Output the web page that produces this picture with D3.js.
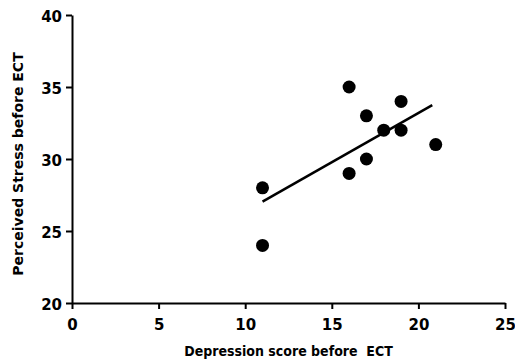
<!DOCTYPE html>
<html>
<head>
<meta charset="utf-8">
<script src="https://cdn.jsdelivr.net/npm/d3@7"></script>
<style>
  body { margin: 0; background: #fff; }
  text { font-family: "DejaVu Sans", sans-serif; font-weight: 700; fill: #000; }
</style>
</head>
<body>
<svg id="chart"></svg>
<script>
const width = 515;
const height = 363;

// data
const depression = [11, 11, 16, 16, 17, 17, 18, 19, 19, 21];
const stress = [28, 24, 35, 29, 33, 30, 32, 34, 32, 31];
const xTicks = [0, 5, 10, 15, 20, 25];
const yTicks = [20, 25, 30, 35, 40];

const margin = {top: 15, right: 10, bottom: 60, left: 72};

let svg = d3.select('#chart')
  .attr('width', width)
  .attr('height', height);

let x = d3.scaleLinear().domain([0, 25]).range([margin.left, width - margin.right]);
let y = d3.scaleLinear().domain([20, 40]).range([height - margin.bottom, margin.top]);

// least squares fit
const mx = d3.mean(depression);
const my = d3.mean(stress);
let sxy = 0, sxx = 0;
for (let i = 0; i < depression.length; i++) {
  sxy += (depression[i] - mx) * (stress[i] - my);
  sxx += (depression[i] - mx) * (depression[i] - mx);
}
const slope = sxy / sxx;
const intercept = my - slope * mx;
const xExt = d3.extent(depression);
const xEnd = xExt[1] - 0.2;

let xAxis = svg.append('g')
  .attr('transform', `translate(0,${y(20)})`)
  .call(d3.axisBottom(x).tickValues(xTicks).tickSize(6).tickPadding(10).tickSizeOuter(0));

let yAxis = svg.append('g')
  .attr('transform', `translate(${x(0)},0)`)
  .call(d3.axisLeft(y).tickValues(yTicks).tickSize(6).tickPadding(4).tickSizeOuter(0));

[xAxis, yAxis].forEach(function (g) {
  g.attr('font-family', null).attr('font-size', null);
  g.selectAll('path, line').attr('stroke', '#000').attr('stroke-width', 2);
  g.selectAll('text').style('font-size', '15px').attr('fill', '#000');
});
yAxis.selectAll('text').attr('dy', '0.45em');

svg.append('line')
  .attr('x1', x(xExt[0]))
  .attr('y1', y(intercept + slope * xExt[0]))
  .attr('x2', x(xEnd))
  .attr('y2', y(intercept + slope * xEnd))
  .attr('stroke', '#000')
  .attr('stroke-width', 2.5);

svg.selectAll('circle.pt')
  .data(depression)
  .enter()
  .append('circle')
  .attr('class', 'pt')
  .attr('cx', d => x(d))
  .attr('cy', (d, i) => y(stress[i]))
  .attr('r', 6.5)
  .attr('fill', '#000');

svg.append('text')
  .attr('x', (x(0) + x(25)) / 2)
  .attr('y', 356)
  .attr('text-anchor', 'middle')
  .style('font-size', '14px')
  .style('font-family', '"DejaVu Sans Condensed", "DejaVu Sans", sans-serif')
  .style('font-stretch', 'condensed')
  .text('Depression score before\u00a0 ECT');

svg.append('text')
  .attr('transform', 'translate(23,164) rotate(-90)')
  .attr('text-anchor', 'middle')
  .style('font-size', '14px')
  .text('Perceived Stress before ECT');
</script>
</body>
</html>
